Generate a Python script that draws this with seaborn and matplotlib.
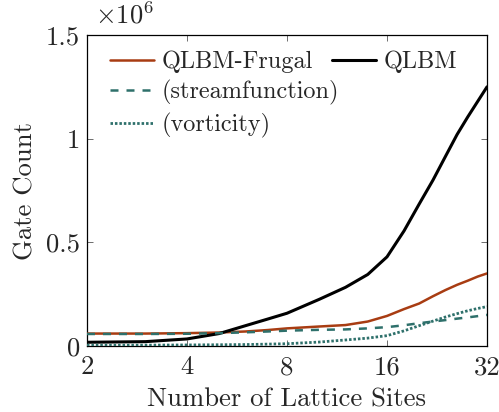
import pandas as pd
import matplotlib
matplotlib.use("Agg")
import matplotlib.pyplot as plt
import matplotlib.ticker as mticker
import matplotlib.lines as mlines
import seaborn as sns

### DATA ###

lattice_sites = [2, 3, 4, 5, 6, 7, 8, 10, 12, 14, 16, 18, 20, 22, 24, 26, 28, 30, 32]

# gate counts in millions
qlbm_frugal = [0.060, 0.060, 0.062, 0.065, 0.070, 0.077, 0.085, 0.094, 0.101, 0.118,
               0.145, 0.178, 0.205, 0.240, 0.270, 0.295, 0.315, 0.335, 0.350]
qlbm = [0.018, 0.021, 0.034, 0.060, 0.098, 0.130, 0.158, 0.225, 0.283, 0.345,
        0.430, 0.555, 0.685, 0.800, 0.915, 1.020, 1.105, 1.180, 1.250]
streamfunction = [0.058, 0.058, 0.059, 0.062, 0.066, 0.070, 0.074, 0.078, 0.080, 0.085,
                  0.091, 0.100, 0.110, 0.118, 0.125, 0.132, 0.138, 0.144, 0.150]
vorticity = [0.004, 0.004, 0.005, 0.006, 0.007, 0.009, 0.011, 0.019, 0.029, 0.038,
             0.050, 0.073, 0.098, 0.120, 0.140, 0.156, 0.170, 0.181, 0.190]

x_ticks = [2, 4, 8, 16, 32]
y_ticks = [0, 0.5e6, 1e6, 1.5e6]

### STYLE ###

sns.set_style("ticks")
plt.rcParams["font.family"] = ["cmr10", "DejaVu Serif"]
plt.rcParams["mathtext.fontset"] = "cm"
plt.rcParams["axes.formatter.use_mathtext"] = True

FS = 19.2
LEG_FS = 17.5
ORANGE = "#a83c12"
TEAL = "#2e706b"
STREAM_DASH = (3.2, 3.2)
VORT_DASH = (0.9, 0.7)

fig = plt.figure(figsize=(4.99, 4.12), dpi=100)
ax = fig.add_axes([0.1743, 0.1602, 0.8017, 0.7548])

df = pd.DataFrame({"N": lattice_sites,
                   "frugal": [v * 1e6 for v in qlbm_frugal],
                   "qlbm": [v * 1e6 for v in qlbm],
                   "stream": [v * 1e6 for v in streamfunction],
                   "vort": [v * 1e6 for v in vorticity]})

sns.lineplot(data=df, x="N", y="frugal", ax=ax, color=ORANGE, lw=1.8, zorder=3)
sns.lineplot(data=df, x="N", y="qlbm", ax=ax, color="black", lw=2.2, zorder=4)
sns.lineplot(data=df, x="N", y="stream", ax=ax, color=TEAL, lw=1.8,
             dashes=STREAM_DASH, zorder=5)
sns.lineplot(data=df, x="N", y="vort", ax=ax, color=TEAL, lw=2.0,
             dashes=VORT_DASH, zorder=6)

ax.set_xscale("log", base=2)
ax.set_xlim(2, 32)
ax.set_ylim(0, 1.5e6)
ax.xaxis.set_major_locator(mticker.FixedLocator(x_ticks))
ax.xaxis.set_major_formatter(mticker.FixedFormatter([str(t) for t in x_ticks]))
ax.xaxis.set_minor_locator(mticker.NullLocator())
ax.yaxis.set_major_locator(mticker.FixedLocator(y_ticks))
ax.yaxis.set_major_formatter(mticker.FuncFormatter(lambda v, p: "%g" % (v / 1e6)))

ax.tick_params(axis="both", which="major", direction="in", length=4, width=0.6,
               color="#555555", top=True, right=True, labelsize=FS)
ax.tick_params(axis="x", pad=7)
ax.tick_params(axis="y", pad=5)
for s in ax.spines.values():
    s.set_linewidth(0.9)
    s.set_color("black")

ax.set_xlabel("Number of Lattice Sites", fontsize=FS, labelpad=6)
ax.set_ylabel("Gate Count", fontsize=FS, labelpad=6)
ax.text(0.02, 1.02, r"$\times10^6$", transform=ax.transAxes, fontsize=FS,
        ha="left", va="bottom")

# legend: first row has two entries, the other two rows one each
h_frugal = mlines.Line2D([], [], color=ORANGE, lw=1.8)
h_qlbm = mlines.Line2D([], [], color="black", lw=2.2)
h_stream = mlines.Line2D([], [], color=TEAL, lw=1.8, dashes=STREAM_DASH)
h_vort = mlines.Line2D([], [], color=TEAL, lw=2.0, dashes=VORT_DASH)
leg_kw = dict(frameon=False, fontsize=LEG_FS, handlelength=1.8,
              handletextpad=0.32, borderpad=0, borderaxespad=0, loc="center left")
leg1 = ax.legend([h_frugal, h_qlbm], ["QLBM-Frugal", "QLBM"], ncol=2,
                 columnspacing=0.8, bbox_to_anchor=(0.0575, 0.913), **leg_kw)
ax.add_artist(leg1)
ax.legend([h_stream, h_vort], ["(streamfunction)", "(vorticity)"],
          labelspacing=0.3, bbox_to_anchor=(0.0575, 0.762), **leg_kw)

fig.savefig("out.png", dpi=100)
